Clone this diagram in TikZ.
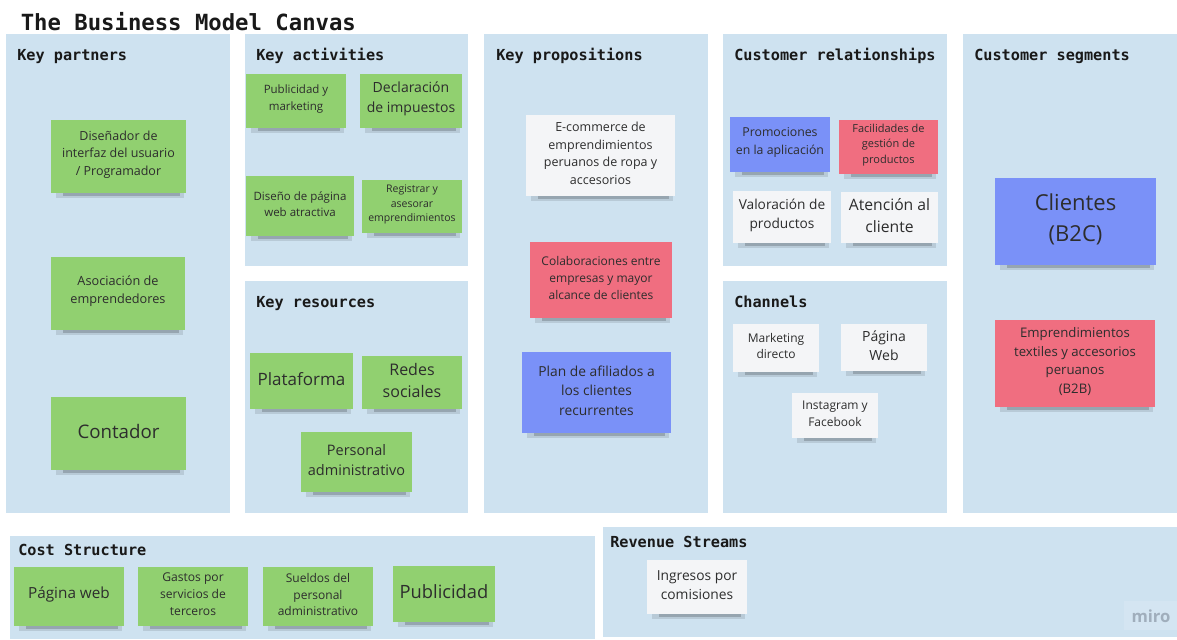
\documentclass[tikz,border=0pt]{standalone}
\usepackage{fontspec}
\setmainfont{Open Sans}
\newfontfamily\headfont{DejaVu Sans Mono}
\definecolor{panel}{RGB}{206,226,240}
\definecolor{sgreen}{RGB}{145,208,112}
\definecolor{sred}{RGB}{240,110,128}
\definecolor{sblue}{RGB}{122,145,248}
\definecolor{swhite}{RGB}{244,245,247}
\definecolor{notetext}{RGB}{45,45,45}
\definecolor{headtext}{RGB}{25,25,25}
\definecolor{mirobox}{RGB}{212,229,242}
\definecolor{mirotext}{RGB}{160,174,188}
\tikzset{
  panelbox/.style={fill=panel},
  notebox/.style={draw=none, inner sep=0pt},
  notelabel/.style={align=center, inner sep=0pt, text=notetext},
  headlabel/.style={anchor=base west, inner sep=0pt, text=headtext, font=\headfont\bfseries\fontsize{11.4pt}{13pt}\selectfont},
}
\newcommand{\sticky}[8]{%
  \pgfmathsetmacro{\stW}{(#4-#2)*0.75}%
  \pgfmathsetmacro{\stH}{(#5-#3)*0.75}%
  \pgfmathsetmacro{\stF}{#7*0.75}%
  \pgfmathsetmacro{\stB}{#7*0.75*1.4}%
  \fill[black, opacity=0.10] (#2+5,#5-1) rectangle (#4-2,#5+4.5);
  \fill[black, opacity=0.18] (#2+12,#5-1) rectangle (#4-6,#5+2.5);
  \node[notebox, fill=#6, minimum width=\stW pt, minimum height=\stH pt] (#1) at ({(#2+#4)/2},{(#3+#5)/2}) {};
  \node[notelabel, font=\fontsize{\stF pt}{\stB pt}\selectfont] (#1t) at ([yshift=1.5pt]#1.center) {#8};
}
\begin{document}
\begin{tikzpicture}[x=0.75pt,y=-0.75pt]
\useasboundingbox (0,0) rectangle (1177,639);
\fill[white] (0,0) rectangle (1177,639);

% title
\node[anchor=base west, inner sep=0pt, text=headtext, font=\headfont\bfseries\fontsize{16.7pt}{19pt}\selectfont] (title) at (20.5,31) {The Business Model Canvas};

% panels
\fill[panelbox] (6,34) rectangle (230,513);
\fill[panelbox] (245,34) rectangle (468,266);
\fill[panelbox] (245,281) rectangle (468,513);
\fill[panelbox] (484,34) rectangle (708,513);
\fill[panelbox] (723,34) rectangle (947,266);
\fill[panelbox] (723,281) rectangle (947,513);
\fill[panelbox] (963,34) rectangle (1177,513);
\fill[panelbox] (10,536) rectangle (595,639);
\fill[panelbox] (603,527) rectangle (1177,637);

% headings
\node[headlabel] (hkp) at (17,60) {Key partners};
\node[headlabel] (hka) at (256,60) {Key activities};
\node[headlabel] (hkr) at (256,307) {Key resources};
\node[headlabel] (hvp) at (496,60) {Key propositions};
\node[headlabel] (hcr) at (734,60) {Customer relationships};
\node[headlabel] (hch) at (734,307) {Channels};
\node[headlabel] (hcs) at (974,60) {Customer segments};
\node[headlabel] (hco) at (18,555) {Cost Structure};
\node[headlabel] (hrs) at (610,547) {Revenue Streams};

% Key partners
\sticky{kp1}{51}{120}{186}{193}{sgreen}{12.5}{Diseñador de\\interfaz del usuario\\/ Programador}
\sticky{kp2}{51}{257}{185}{330}{sgreen}{12.7}{Asociación de\\emprendedores}
\sticky{kp3}{51}{397}{186}{470}{sgreen}{18.7}{Contador}

% Key activities
\sticky{ka1}{246}{74}{346}{128}{sgreen}{11.5}{Publicidad y\\marketing}
\sticky{ka2}{360}{74}{462}{128}{sgreen}{14}{Declaración\\de impuestos}
\sticky{ka3}{246}{176}{354}{236}{sgreen}{11.5}{Diseño de página\\web atractiva}
\sticky{ka4}{362}{180}{462}{233}{sgreen}{10.5}{Registrar y\\asesorar\\emprendimientos}

% Key resources
\sticky{kr1}{250}{353}{353}{409}{sgreen}{17}{Plataforma}
\sticky{kr2}{362}{356}{462}{409}{sgreen}{16}{Redes\\sociales}
\sticky{kr3}{301}{432}{412}{492}{sgreen}{14.5}{Personal\\administrativo}

% Key propositions
\sticky{vp1}{526}{115}{675}{196}{swhite}{12.5}{E-commerce de\\emprendimientos\\peruanos de ropa y\\accesorios}
\sticky{vp2}{530}{242}{672}{318}{sred}{12}{Colaboraciones entre\\empresas y mayor\\alcance de clientes}
\sticky{vp3}{522}{352}{671}{433}{sblue}{13.8}{Plan de afiliados a\\los clientes\\recurrentes}

% Customer relationships
\sticky{cr1}{730}{117}{830}{172}{sblue}{12.3}{Promociones\\en la aplicación}
\sticky{cr2}{839}{120}{938}{174}{sred}{11}{Facilidades de\\gestión de\\productos}
\sticky{cr3}{733}{191}{831}{243}{swhite}{13.7}{Valoración de\\productos}
\sticky{cr4}{841}{192}{938}{243}{swhite}{15.7}{Atención al\\cliente}

% Channels
\sticky{ch1}{733}{324}{819}{372}{swhite}{12}{Marketing\\directo}
\sticky{ch2}{841}{324}{927}{371}{swhite}{14}{Página\\Web}
\sticky{ch3}{792}{393}{878}{438}{swhite}{12}{Instagram y\\Facebook}

% Customer segments
\sticky{cs1}{995}{178}{1156}{265}{sblue}{22}{Clientes\\(B2C)}
\sticky{cs2}{995}{320}{1155}{407}{sred}{13.2}{Emprendimientos\\textiles y accesorios\\peruanos\\(B2B)}

% Cost structure
\sticky{co1}{14}{567}{124}{626}{sgreen}{15.3}{Página web}
\sticky{co2}{138}{567}{248}{626}{sgreen}{12.1}{Gastos por\\servicios de\\terceros}
\sticky{co3}{263}{567}{373}{626}{sgreen}{12}{Sueldos del\\personal\\administrativo}
\sticky{co4}{393}{566}{495}{622}{sgreen}{18.3}{Publicidad}

% Revenue streams
\sticky{rs1}{647}{560}{747}{614}{swhite}{13.8}{Ingresos por\\comisiones}

% watermark
\fill[mirobox] (1124,601) rectangle (1177,630);
\node[inner sep=0pt, text=mirotext, font=\bfseries\fontsize{12.5pt}{14pt}\selectfont] (miro) at (1151,616) {miro};
\end{tikzpicture}
\end{document}
